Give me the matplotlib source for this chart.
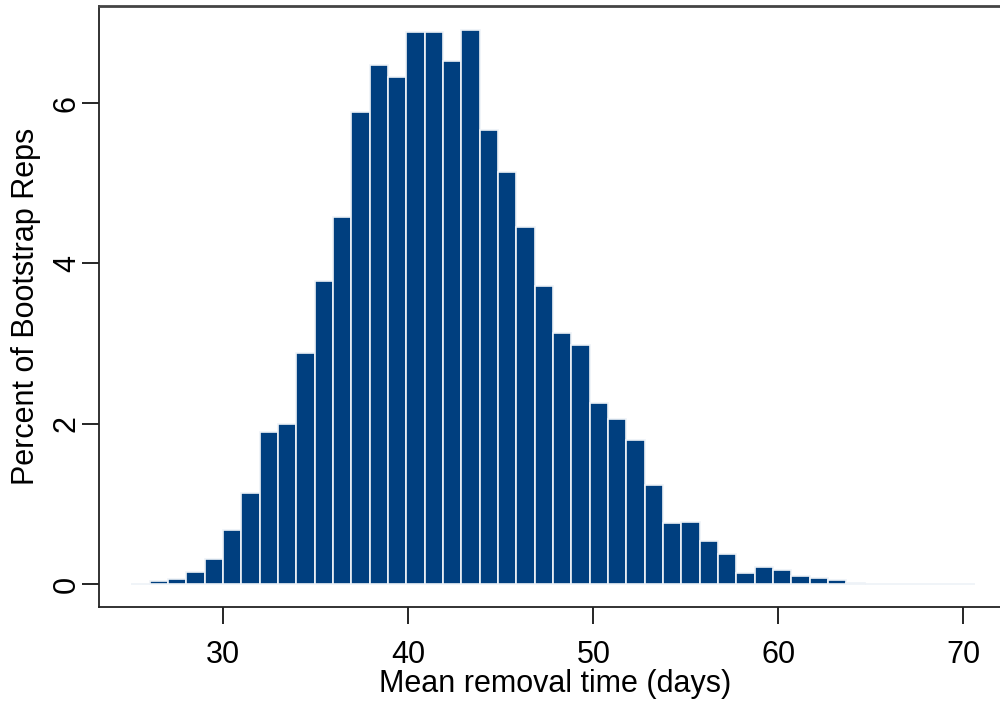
import matplotlib
matplotlib.use('Agg')
import matplotlib.pyplot as plt

# histogram of bootstrap means (bin width ~0.991 days, 46 bins)
bin_start = 25.03
bin_width = 0.991
percent = [0.0, 0.04, 0.06, 0.15, 0.32, 0.68, 1.14, 1.90, 2.00, 2.88,
           3.78, 4.58, 5.89, 6.47, 6.33, 6.89, 6.89, 6.53, 6.91, 5.67,
           5.14, 4.45, 3.72, 3.13, 2.98, 2.26, 2.06, 1.80, 1.24, 0.76,
           0.78, 0.54, 0.38, 0.14, 0.22, 0.18, 0.10, 0.075, 0.054, 0.02,
           0.0, 0.0, 0.0, 0.0, 0.0, 0.0]
x_ticks = [30, 40, 50, 60, 70]
y_ticks = [0, 2, 4, 6]

plt.rcParams['font.family'] = ['Liberation Sans', 'DejaVu Sans']

edges = [bin_start + i * bin_width for i in range(len(percent))]

fig = plt.figure(figsize=(10, 7.04), dpi=100)
ax = fig.add_axes([0.0985, 0.1378, 0.9015, 0.8537])

ax.bar(edges, percent, width=bin_width, align='edge',
       color='#003f7f', edgecolor='#eef2f7', linewidth=1.2)

ax.set_xlim(23.25, 71.98)
ax.set_ylim(-0.283, 7.21)
ax.set_xticks(x_ticks)
ax.set_yticks(y_ticks)
ax.tick_params(axis='both', direction='out', length=12, width=1.2,
               labelsize=22, colors='black')
ax.tick_params(axis='x', pad=12)
ax.tick_params(axis='y', pad=0)
plt.setp(ax.get_yticklabels(), rotation=90, va='center')

ax.spines['right'].set_visible(False)
for s in ['left', 'bottom']:
    ax.spines[s].set_color('#222222')
    ax.spines[s].set_linewidth(1.3)
ax.spines['top'].set_color('#444444')
ax.spines['top'].set_linewidth(2)

ax.set_xlabel('Mean removal time (days)', fontsize=22, labelpad=0)
ax.set_ylabel('Percent of Bootstrap Reps', fontsize=22, labelpad=8)
ax.xaxis.set_label_coords(0.506, -0.104)

fig.savefig('out.png', dpi=100)
